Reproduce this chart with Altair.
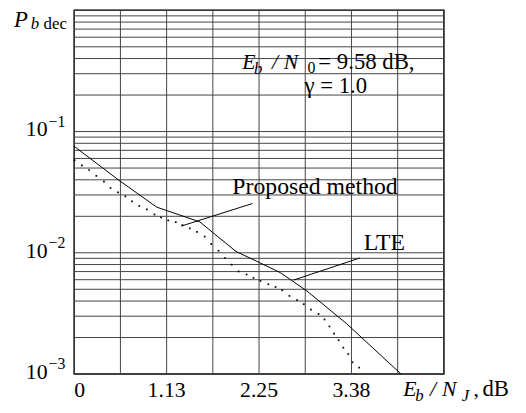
import altair as alt
import pandas as pd

# ---------------- data ----------------
x_grid = [0, 0.5625, 1.125, 1.6875, 2.25, 2.8125, 3.375, 3.9375, 4.5]
x_ticks = [0, 1.125, 2.25, 3.375]
x_tick_labels = ["0", "1.13", "2.25", "3.38"]
y_mult = [1, 2, 3, 4, 5, 6, 7, 8, 9]
y_decades = [0.001, 0.01, 0.1]
y_label_vals = [0.1, 0.01, 0.001]
y_label_exp = ["\u22121", "\u22122", "\u22123"]

lte_x = [0.0, 0.543, 1.004, 1.528, 1.969, 2.251, 2.512, 2.833, 3.316, 3.979]
lte_y = [0.0755, 0.0397, 0.0238, 0.0180, 0.01026, 0.00833, 0.00684, 0.00484, 0.0026, 0.001]

prop_x = [0.004, 0.093, 0.181, 0.269, 0.362, 0.442, 0.534, 0.623, 0.703, 0.792,
          0.884, 0.977, 1.057, 1.145, 1.236, 1.318, 1.407, 1.495, 1.588, 1.667,
          1.757, 1.836, 1.917, 2.001, 2.098, 2.182, 2.267, 2.363, 2.451, 2.532,
          2.620, 2.713, 2.794, 2.882, 2.974, 3.047, 3.107, 3.163, 3.219, 3.276,
          3.336, 3.388, 3.469]
prop_y = [0.0581, 0.0526, 0.0482, 0.0431, 0.0387, 0.0342, 0.0315, 0.0292, 0.0265, 0.0243,
          0.0228, 0.0207, 0.0196, 0.0185, 0.0179, 0.0169, 0.0159, 0.0149, 0.0136, 0.0118,
          0.0104, 0.00906, 0.00798, 0.00702, 0.00662, 0.00622, 0.00586, 0.00550, 0.00522, 0.00491,
          0.00441, 0.00407, 0.00377, 0.00340, 0.00313, 0.00282, 0.00247, 0.00215, 0.00190, 0.00165,
          0.00146, 0.00125, 0.00113]

lead_x = [1.302, 2.673]
lead_y = [0.0166, 0.00596]
lead_x2 = [2.170, 3.476]
lead_y2 = [0.0255, 0.00906]

# --------------- build ---------------
FONT = "Liberation Serif"
W, H = 374, 368

xs = alt.Scale(domain=[0, 4.5], nice=False, zero=False)
ys = alt.Scale(type="log", domain=[0.001, 1], nice=False)

X = lambda f="x": alt.X(f"{f}:Q", scale=xs, axis=None)
Y = lambda f="y": alt.Y(f"{f}:Q", scale=ys, axis=None)

y_grid = [m * d for d in y_decades for m in y_mult] + [1.0]

vgrid = alt.Chart(pd.DataFrame({"x": x_grid})).mark_rule(
    color="#444", strokeWidth=1
).encode(x=X())

hgrid = alt.Chart(pd.DataFrame({"y": y_grid})).mark_rule(
    color="#444", strokeWidth=1
).encode(y=Y())

lte = alt.Chart(pd.DataFrame({"x": lte_x, "y": lte_y})).mark_line(
    color="black", strokeWidth=1
).encode(x=X(), y=Y())

prop = alt.Chart(pd.DataFrame({"x": prop_x, "y": prop_y})).mark_square(
    color="black", size=3, opacity=1
).encode(x=X(), y=Y())

leads = alt.Chart(pd.DataFrame({"x": lead_x, "y": lead_y, "x2": lead_x2, "y2": lead_y2})).mark_rule(
    color="black", strokeWidth=1
).encode(x=X(), y=Y(), x2="x2:Q", y2="y2:Q")

xlab_df = pd.DataFrame({"x": x_ticks, "t": x_tick_labels})
xlab_first = alt.Chart(xlab_df.iloc[:1]).mark_text(
    font=FONT, fontSize=22, align="left", baseline="alphabetic", color="black"
).encode(x=X(), y=alt.value(391), text="t:N")
xlab_rest = alt.Chart(xlab_df.iloc[1:]).mark_text(
    font=FONT, fontSize=22, align="center", baseline="alphabetic", color="black"
).encode(x=X(), y=alt.value(391), text="t:N")

ylab_df = pd.DataFrame({"y": y_label_vals, "e": y_label_exp, "t": ["10"] * 3})
ylab_main = alt.Chart(ylab_df).mark_text(
    font=FONT, fontSize=22, align="right", baseline="alphabetic", dy=5, color="black"
).encode(x=alt.value(-27), y=Y(), text="t:N")
ylab_exp = alt.Chart(ylab_df).mark_text(
    font=FONT, fontSize=16, align="left", baseline="alphabetic", dy=-5, color="black"
).encode(x=alt.value(-26), y=Y(), text="e:N")


def txt(s, x, y, size=22, italic=False, align="left"):
    return alt.Chart(pd.DataFrame({"t": [s]})).mark_text(
        font=FONT, fontSize=size, fontStyle="italic" if italic else "normal",
        align=align, baseline="alphabetic", color="black"
    ).encode(x=alt.value(x), y=alt.value(y), text="t:N")


texts = [
    txt("Proposed method", 160, 186, 24),
    txt("LTE", 293, 242, 24),
    # Eb / N0 = 9.58 dB,
    txt("E", 170, 59, 22, True),
    txt("b", 182, 64, 17, True),
    txt("/", 200, 59, 22, True),
    txt("N", 212, 59, 22, True),
    txt("0", 236, 63, 16),
    txt("= 9.58 dB,", 247, 59, 23),
    # gamma
    txt("\u03b3 = 1.0", 233, 84, 23),
    # x title
    txt("E", 333, 390, 22, True),
    txt("b", 345, 395, 17, True),
    txt("/", 360, 390, 22, True),
    txt("N", 372, 390, 22, True),
    txt("J", 392, 395, 17, True),
    txt(",", 404, 390, 22),
    txt("dB", 413, 390, 23),
    # y title
    txt("P", -61, 17, 23, True),
    txt("b", -44, 19, 17, True),
    txt("dec", -31, 19, 17),
]

chart = alt.layer(vgrid, hgrid, lte, prop, leads, xlab_first, xlab_rest,
                  ylab_main, ylab_exp, *texts).properties(
    width=W, height=H,
    autosize=alt.AutoSizeParams(type="none"),
    padding={"left": 67, "top": 0, "right": 75, "bottom": 30},
).configure_view(stroke="black", strokeWidth=1.5)

chart.save("out.html", embed_options={"renderer": "svg", "actions": False})
